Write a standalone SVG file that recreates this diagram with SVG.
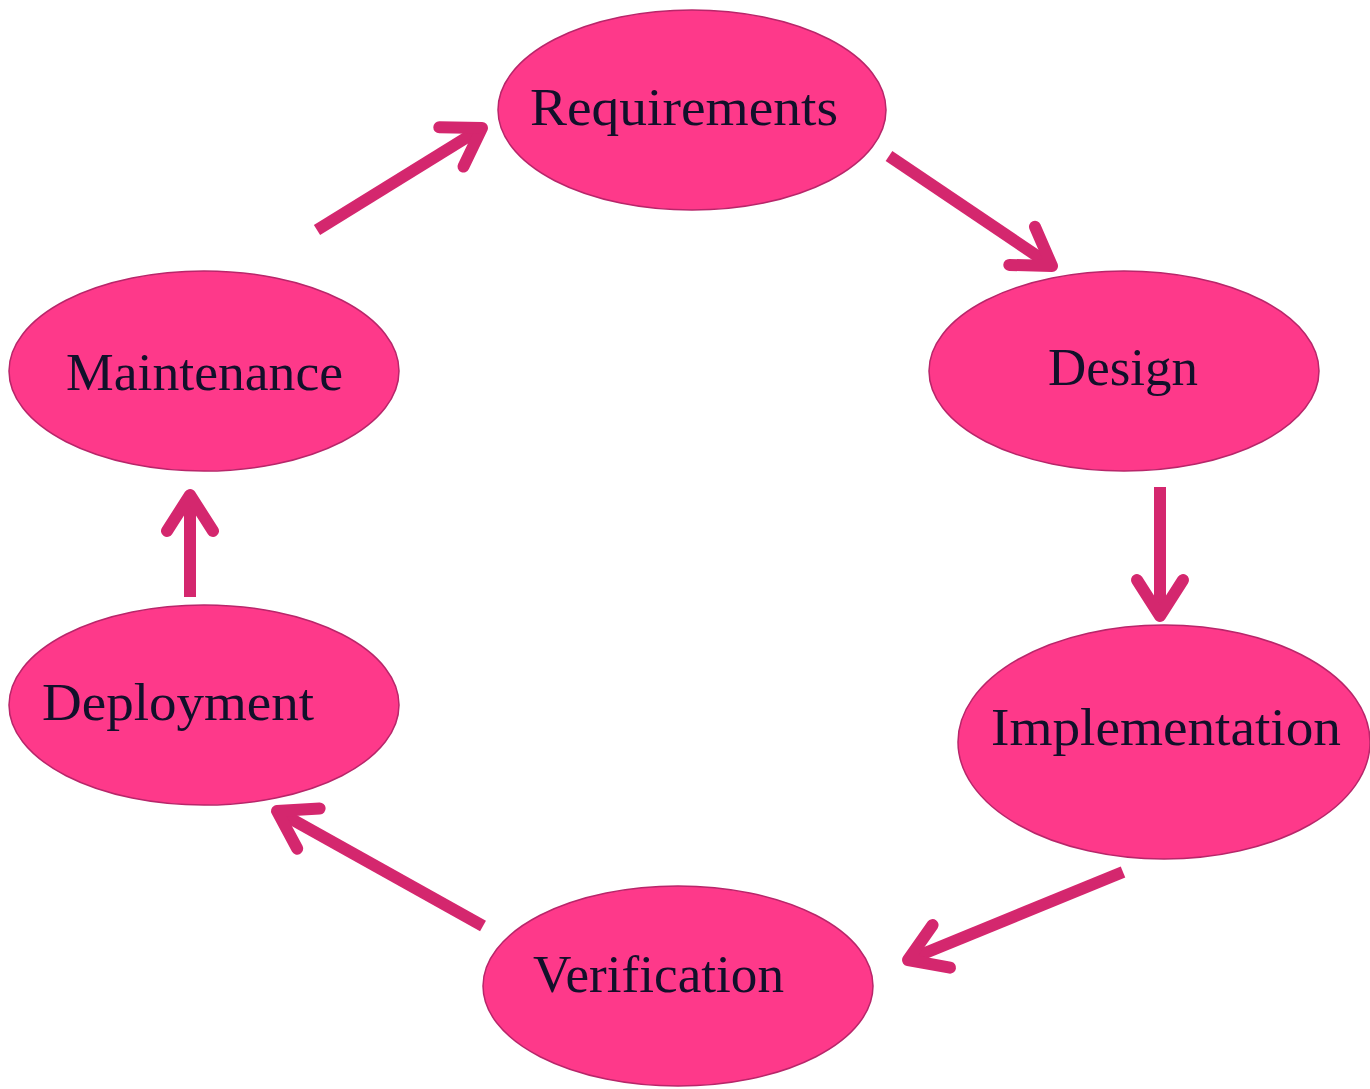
<svg xmlns="http://www.w3.org/2000/svg" width="1370" height="1089" viewBox="0 0 1370 1089">
<style>
.n{fill:#FE398A;stroke:#B8266A;stroke-width:1.5}
.t{font-family:"Liberation Serif","Times New Roman",serif;font-size:52px;fill:#12102A}
.c{fill:none;stroke:#D4276E;stroke-width:12;stroke-linecap:butt}
</style>
<defs>
<marker id="h" markerUnits="userSpaceOnUse" viewBox="-50 -40 60 80" refX="0" refY="0" markerWidth="60" markerHeight="80" orient="auto">
<path d="M-36,-23 L0,0 L-36,23" fill="none" stroke="#D4276E" stroke-width="12" stroke-linecap="round" stroke-linejoin="round"/>
</marker>
</defs>
<rect width="1370" height="1089" fill="#FFFFFF"/>
<g id="connectors">
<path class="c" d="M317,230 L482,128" marker-end="url(#h)"/>
<path class="c" d="M889,156 L1052,266" marker-end="url(#h)"/>
<path class="c" d="M1160,487 L1160,616" marker-end="url(#h)"/>
<path class="c" d="M1123,872 L908,960" marker-end="url(#h)"/>
<path class="c" d="M483,926 L277,811" marker-end="url(#h)"/>
<path class="c" d="M190,597 L190,495" marker-end="url(#h)"/>
</g>
<g id="requirements"><ellipse class="n" cx="692" cy="110" rx="194" ry="100"/><text class="t" x="530" y="125" textLength="308" lengthAdjust="spacingAndGlyphs">Requirements</text></g>
<g id="design"><ellipse class="n" cx="1124" cy="371" rx="195" ry="100"/><text class="t" x="1048" y="385" textLength="150" lengthAdjust="spacingAndGlyphs">Design</text></g>
<g id="implementation"><ellipse class="n" cx="1164" cy="742" rx="206" ry="117"/><text class="t" x="991" y="745" textLength="350" lengthAdjust="spacingAndGlyphs">Implementation</text></g>
<g id="verification"><ellipse class="n" cx="678" cy="986" rx="195" ry="100"/><text class="t" x="533" y="992" textLength="251" lengthAdjust="spacingAndGlyphs">Verification</text></g>
<g id="deployment"><ellipse class="n" cx="204" cy="705" rx="195" ry="100"/><text class="t" x="42" y="720" textLength="272" lengthAdjust="spacingAndGlyphs">Deployment</text></g>
<g id="maintenance"><ellipse class="n" cx="204" cy="371" rx="195" ry="100"/><text class="t" x="66" y="390" textLength="277" lengthAdjust="spacingAndGlyphs">Maintenance</text></g>
</svg>
